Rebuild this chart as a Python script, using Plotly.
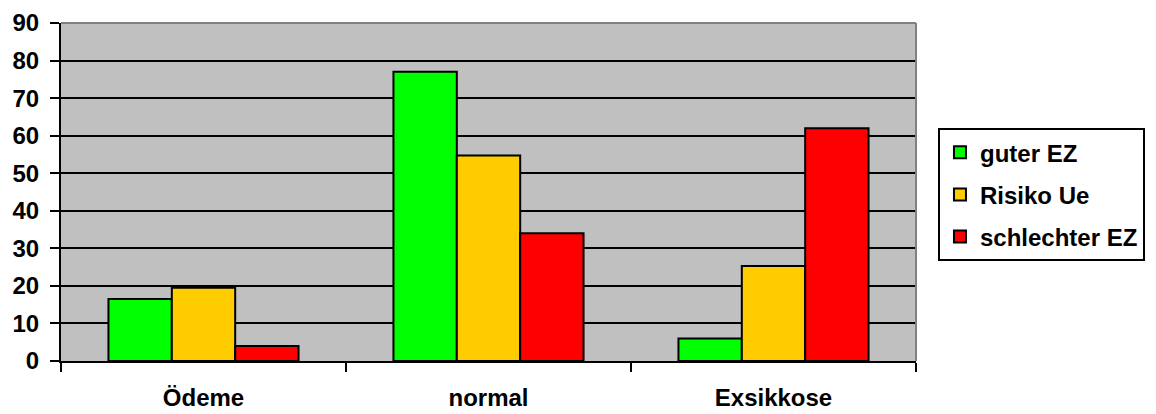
import plotly.graph_objects as go

categories = ["Ödeme", "normal", "Exsikkose"]
guter_ez = [16.5, 77, 6]
risiko_ue = [19.5, 54.7, 25.3]
schlechter_ez = [4, 34, 62]
y_ticks = [0, 10, 20, 30, 40, 50, 60, 70, 80, 90]

series = [
    ("guter EZ", guter_ez, "#00FF00"),
    ("Risiko Ue", risiko_ue, "#FFCC00"),
    ("schlechter EZ", schlechter_ez, "#FF0000"),
]

FONT = "Liberation Sans, Arial, sans-serif"

fig = go.Figure()
for name, vals, color in series:
    fig.add_trace(go.Bar(
        x=categories, y=vals, name=name, legendgroup=name,
        marker=dict(color=color, line=dict(color="black", width=2)),
    ))

fig.update_layout(
    width=1156, height=414,
    margin=dict(l=61, r=239, t=23, b=53),
    paper_bgcolor="white",
    plot_bgcolor="#C0C0C0",
    barmode="group",
    bargap=0.333,
    bargroupgap=0,
    font=dict(family=FONT, size=24, color="black"),
    legend=dict(
        x=1.0245, xanchor="left", y=0.689, yanchor="top",
        bordercolor="black", borderwidth=2,
        font=dict(family=FONT, size=24, color="black", weight="bold"),
        traceorder="grouped", tracegroupgap=8,
        itemwidth=30,
    ),
    showlegend=True,
)

fig.update_xaxes(
    type="category", automargin=False,
    showline=True, linecolor="black", linewidth=2,
    ticks="outside", tickson="boundaries", ticklen=9, tickwidth=2, tickcolor="black",
    showgrid=False,
    tickfont=dict(family=FONT, size=24, color="black", weight="bold"),
    ticklabelstandoff=14,
)
fig.update_yaxes(
    range=[0, 90], tickvals=y_ticks, automargin=False,
    showline=True, linecolor="black", linewidth=2,
    ticks="outside", ticklen=9, tickwidth=2, tickcolor="black",
    showgrid=True, gridcolor="black", gridwidth=2,
    zeroline=False,
    tickfont=dict(family=FONT, size=24, color="black", weight="bold"),
    ticklabelstandoff=6,
)

# grey frame along the top and right edges of the plotting area
fig.add_shape(type="line", xref="paper", yref="paper", x0=0, x1=1, y0=1, y1=1,
              line=dict(color="#808080", width=2), layer="above")
fig.add_shape(type="line", xref="paper", yref="paper", x0=1, x1=1, y0=0, y1=1,
              line=dict(color="#808080", width=2), layer="above")

fig.write_html("out.html")
